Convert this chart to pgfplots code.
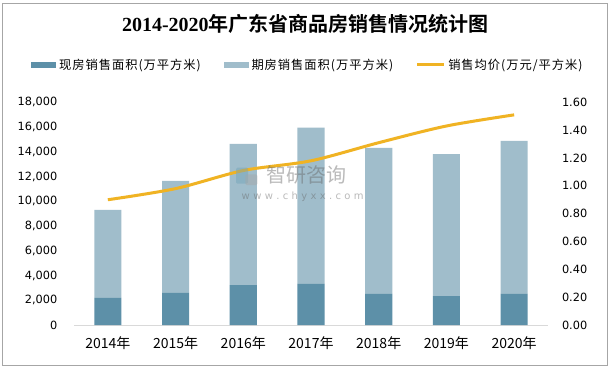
\documentclass[border=0pt]{standalone}
\usepackage{pgfplots}
\pgfplotsset{compat=1.18}
\usepackage{fontspec}
\newfontfamily\cjk[BoldFont={Noto Sans CJK SC Bold}]{Noto Sans CJK SC}
\newfontfamily\cjkl[LetterSpace=8]{Noto Sans CJK SC}
\newfontfamily\dv{DejaVu Sans}
\newfontfamily\lserif{Liberation Serif}
\definecolor{cur}{HTML}{5D90A8}
\definecolor{per}{HTML}{A0BDCB}
\definecolor{price}{HTML}{F0B323}
\definecolor{axgray}{HTML}{D9D9D9}
\begin{document}
\begin{tikzpicture}
\path[use as bounding box] (0,0) rectangle (457.5pt,276.75pt);
\fill[white] (0,0) rectangle (457.5pt,276.75pt);
\draw[gray!70, line width=0.6pt] (1.5pt,2.6pt) rectangle (455.25pt,274.5pt);
\node[font=\fontsize{15}{18}\selectfont] at (229pt,259pt)
  {{\lserif\bfseries 2014-2020}{\cjk\bfseries 年广东省商品房销售情况统计图}};
\begin{axis}[
  at={(55.5pt,33pt)}, anchor=south west,
  scale only axis, width=355.5pt, height=167pt,
  xmin=-0.5, xmax=6.5, ymin=0, ymax=18000,
  ybar stacked, bar width=0.4,
  axis x line*=bottom, axis y line*=left,
  x axis line style={draw=axgray, line width=0.75pt, -},
  y axis line style={draw=none},
  major tick length=0pt,
  scaled y ticks=false,
  xtick={0,1,2,3,4,5,6},
  xticklabels={2014年,2015年,2016年,2017年,2018年,2019年,2020年},
  xticklabel style={font=\cjk\fontsize{10.5}{12}\selectfont, yshift=-5pt},
  ytick={0,2000,...,18000},
  yticklabel style={font=\dv\fontsize{8.5}{10}\selectfont, xshift=-9pt},
  /pgf/number format/assume math mode=true,
  /pgf/number format/.cd, fixed, precision=0, 1000 sep={,},
  /pgfplots/.cd,
  legend columns=3,
  legend style={at={(0.494,1.168)}, anchor=center, draw=none, fill=none,
    font=\cjkl\fontsize{9.2}{11}\selectfont, inner sep=0pt,
    /tikz/every even column/.append style={column sep=15pt}},
  legend cell align=left,
]
\addplot[fill=cur, draw=none,
  legend image code/.code={\fill[cur] (0pt,-2.2pt) rectangle (19pt,2.2pt);}]
  coordinates {(0,2200) (1,2590) (2,3230) (3,3320) (4,2510) (5,2340) (6,2510)};
\addlegendentry{现房销售面积(万平方米)}
\addplot[fill=per, draw=none,
  legend image code/.code={\fill[per] (0pt,-2.2pt) rectangle (19pt,2.2pt);}]
  coordinates {(0,7100) (1,9060) (2,11420) (3,12630) (4,11800) (5,11480) (6,12370)};
\addlegendentry{期房销售面积(万平方米)}
\addlegendimage{legend image code/.code={\draw[price, line width=2.25pt] (0pt,0pt) -- (20pt,0pt);}}
\addlegendentry{销售均价(万元/平方米)}
\end{axis}
\begin{axis}[
  at={(55.5pt,33pt)}, anchor=south west,
  scale only axis, width=355.5pt, height=167pt,
  xmin=-0.5, xmax=6.5, ymin=0, ymax=1.6,
  axis x line=none, axis y line*=right,
  y axis line style={draw=none},
  major tick length=0pt,
  ytick={0,0.2,...,1.61},
  yticklabel style={font=\dv\fontsize{8.5}{10}\selectfont, xshift=7pt},
  /pgf/number format/assume math mode=true,
  /pgf/number format/.cd, fixed, fixed zerofill, precision=2,
  /pgfplots/.cd,
]
\addplot[price, line width=2.25pt, smooth, no markers]
  coordinates {(0,0.90) (1,0.98) (2,1.11) (3,1.18) (4,1.31) (5,1.43) (6,1.51)};
\end{axis}
% watermark
\begin{scope}[opacity=0.45]
\fill[cyan!40!gray, rounded corners=1pt] (177pt,139pt) rectangle (186pt,151pt);
\fill[gray!70, rounded corners=1pt] (184pt,138pt) rectangle (193pt,146pt);
\node[gray!80!black, font=\cjk\fontsize{15}{18}\selectfont] at (229.5pt,145.5pt) {智研咨询};
\node[gray!80!black, font=\dv\fontsize{7.5}{9}\selectfont] at (227pt,129pt)
  {w\,\,w\,\,w\,\,.\,\,c\,\,h\,\,y\,\,x\,\,x\,\,.\,\,c\,\,o\,\,m};
\end{scope}
\end{tikzpicture}
\end{document}
